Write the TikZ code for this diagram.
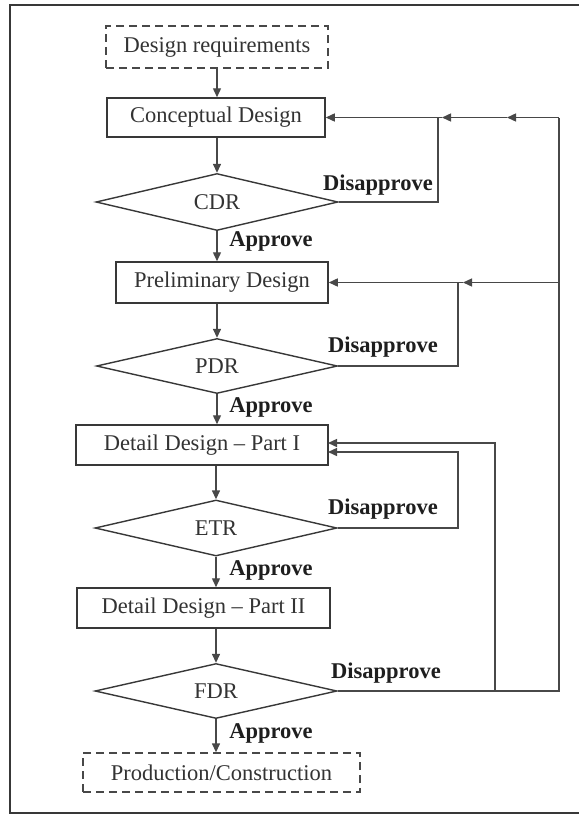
\documentclass[tikz,border=0pt]{standalone}
\usepackage{fontspec}
\setmainfont{Liberation Serif}
\usetikzlibrary{shapes.geometric,arrows.meta}
\definecolor{boxcol}{HTML}{383838}
\definecolor{linecol}{HTML}{484848}
\definecolor{txtcol}{HTML}{333333}
\definecolor{lblcol}{HTML}{1E1E1E}
\tikzset{
  boxnode/.style={draw=boxcol,line width=1.5pt,rectangle,inner sep=0pt,text=txtcol,font=\fontsize{22.5}{26}\selectfont},
  dashbox/.style={boxnode,draw=linecol,line width=1.4pt,dash pattern=on 8pt off 5pt},
  decision/.style={draw=boxcol,line width=1.4pt,diamond,inner sep=0pt,aspect=4,text=txtcol,font=\fontsize{22.5}{26}\selectfont},
  lbl/.style={inner sep=0pt,text=lblcol,font=\fontsize{22.5}{26}\selectfont\bfseries},
  conn/.style={draw=linecol,line width=1.4pt},
  arr/.style={conn,-{Triangle[length=9pt,width=8pt]}},
  framestyle/.style={draw=boxcol,line width=2.2pt}
}
\begin{document}
\begin{tikzpicture}[x=1pt,y=-1pt]
\useasboundingbox (0,0) rectangle (579,815);
\fill[white] (0,0) rectangle (579,815);
\draw[framestyle] (579,5) -- (10,5) -- (10,813) -- (579,813);

% nodes
\node[dashbox,minimum width=222pt,minimum height=42pt] (req) at (217,47) {Design requirements};
\node[boxnode,minimum width=218pt,minimum height=39pt] (cd) at (216,117.5) {Conceptual Design};
\node[decision,minimum width=242pt,minimum height=57pt] (cdr) at (217,202) {CDR};
\node[boxnode,minimum width=212pt,minimum height=41pt] (pd) at (222,282.5) {Preliminary Design};
\node[decision,minimum width=241pt,minimum height=55pt] (pdr) at (217,366) {PDR};
\node[boxnode,minimum width=252pt,minimum height=40pt] (dd1) at (202,445) {Detail Design -- Part I};
\node[decision,minimum width=242pt,minimum height=56pt] (etr) at (216,528) {ETR};
\node[boxnode,minimum width=253pt,minimum height=40pt] (dd2) at (203.5,608) {Detail Design -- Part II};
\node[decision,minimum width=242pt,minimum height=55pt] (fdr) at (216,691) {FDR};
\node[dashbox,minimum width=277pt,minimum height=39pt] (prod) at (221.5,772.5) {Production/Construction};

% labels
\node[lbl] (ap1) at (271,241) {Approve};
\node[lbl] (ap2) at (271,407) {Approve};
\node[lbl] (ap3) at (271,570) {Approve};
\node[lbl] (ap4) at (271,733) {Approve};
\node[lbl] (dis1) at (378,185) {Disapprove};
\node[lbl] (dis2) at (383,347) {Disapprove};
\node[lbl] (dis3) at (383,509) {Disapprove};
\node[lbl] (dis4) at (386,673) {Disapprove};

% main flow
\draw[arr] (req.south) -- (req.south |- cd.north);
\draw[arr] (cd.south -| cdr.north) -- (cdr.north);
\draw[arr] (cdr.south) -- (cdr.south |- pd.north);
\draw[arr] (pd.south -| pdr.north) -- (pdr.north);
\draw[arr] (pdr.south) -- (pdr.south |- dd1.north);
\draw[arr] (dd1.south -| etr.north) -- (etr.north);
\draw[arr] (etr.south) -- (etr.south |- dd2.north);
\draw[arr] (dd2.south -| fdr.north) -- (fdr.north);
\draw[arr] (fdr.south) -- (fdr.south |- prod.north);

% feedback coordinates
\coordinate (rTop) at (559,117.5);
\coordinate (rMid) at (559,282.5);
\coordinate (rBot) at (559,691);
\coordinate (a1) at (507,117.5);
\coordinate (a2) at (442,117.5);
\coordinate (j1) at (438,117.5);
\coordinate (a3) at (463,282.5);
\coordinate (j2) at (458,282.5);
\coordinate (fJ) at (495,691);
\coordinate (d1a) at (328,443);
\coordinate (j3) at (458,452);
\coordinate (d1b) at (328,452);

% feedback lines
\draw[conn] (fdr.east) -- (rBot) -- (rTop);
\draw[arr] (rTop) -- (a1);
\draw[arr] (a1) -- (a2);
\draw[arr] (a2) -- (cd.east);
\draw[conn] (cdr.east) -| (j1);
\draw[arr] (rMid) -- (a3);
\draw[arr] (a3) -- (pd.east);
\draw[conn] (pdr.east) -| (j2);
\draw[arr] (fJ) |- (d1a);
\draw[arr] (etr.east) -| (j3) -- (d1b);
\end{tikzpicture}
\end{document}
